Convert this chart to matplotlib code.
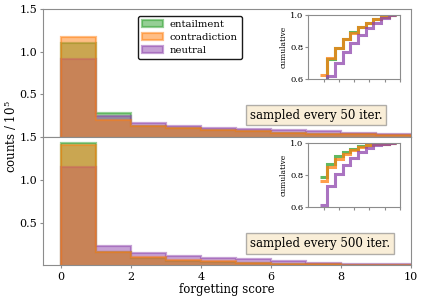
import numpy as np
import matplotlib
matplotlib.use("Agg")
import matplotlib.pyplot as plt

plt.rcParams['font.family'] = ['DejaVu Serif']
plt.rcParams['mathtext.fontset'] = 'dejavuserif'

# ---- data (counts in units of 1e5) ----
bin_edges = np.arange(0, 11)
labels = ["entailment", "contradiction", "neutral"]
colors = ["#2ca02c", "#ff7f0e", "#8e44ad"]
draw_order = [0, 2, 1]  # entailment, neutral, contradiction

top_entailment = [1.10, 0.28, 0.13, 0.10, 0.08, 0.065, 0.05, 0.04, 0.03, 0.022]
top_contradiction = [1.175, 0.20, 0.125, 0.10, 0.08, 0.065, 0.05, 0.04, 0.03, 0.022]
top_neutral = [0.91, 0.25, 0.16, 0.128, 0.11, 0.09, 0.08, 0.065, 0.05, 0.04]

bot_entailment = [1.43, 0.15, 0.085, 0.05, 0.035, 0.025, 0.015, 0.01, 0.006, 0.004]
bot_contradiction = [1.41, 0.16, 0.097, 0.062, 0.045, 0.03, 0.02, 0.012, 0.008, 0.005]
bot_neutral = [1.145, 0.222, 0.138, 0.105, 0.085, 0.07, 0.045, 0.03, 0.015, 0.01]

panels = [
    ("sampled every 50 iter.", [top_entailment, top_contradiction, top_neutral]),
    ("sampled every 500 iter.", [bot_entailment, bot_contradiction, bot_neutral]),
]

x_ticks = [0, 2, 4, 6, 8, 10]
y_ticks = [0.5, 1.0, 1.5]
inset_yticks = [0.6, 0.8, 1.0]

spine_col = "0.55"

fig = plt.figure(figsize=(4.25, 3.0), dpi=100)
L, R = 43.3 / 425, 410.7 / 425
ax_top = fig.add_axes([L, 1 - 137 / 300, R - L, 128 / 300])
ax_bot = fig.add_axes([L, 1 - 265.3 / 300, R - L, 128.3 / 300], sharex=ax_top)
inset_rects = [
    [308.3 / 425, 1 - 79 / 300, 91.7 / 425, 64 / 300],
    [308.3 / 425, 1 - 207.3 / 300, 91.7 / 425, 64 / 300],
]

for i, (ax, (txt, series)) in enumerate(zip([ax_top, ax_bot], panels)):
    handles = {}
    for k in draw_order:
        h = ax.stairs(series[k], bin_edges, fill=True, facecolor=colors[k],
                      edgecolor=colors[k], lw=1.6, alpha=0.5, label=labels[k])
        handles[k] = h
    if i == 0:
        leg = ax.legend([handles[k] for k in range(3)], labels,
                        loc="upper left", bbox_to_anchor=(0.2586, 0.945), borderaxespad=0,
                        fontsize=7.2, frameon=True, fancybox=True, framealpha=1,
                        handlelength=2.1, handletextpad=0.65, labelspacing=0.4)
        leg.get_frame().set_edgecolor("0.1")
    ax.set_xlim(-0.5, 10)
    ax.set_ylim(0, 1.5)
    ax.set_yticks(y_ticks)
    ax.tick_params(labelsize=8, color=spine_col, length=2.5, pad=2)
    for s in ax.spines.values():
        s.set_color(spine_col)
    ax.text(0.5626, 0.17, txt, transform=ax.transAxes, ha="left", va="center",
            fontsize=8.5,
            bbox=dict(boxstyle="square,pad=0.3", facecolor="#f5deb3", alpha=0.5,
                      edgecolor="0.4"))
    # inset cumulative
    axi = fig.add_axes(inset_rects[i])
    for k in [0, 1, 2]:
        v = np.asarray(series[k])
        cum = np.cumsum(v) / v.sum()
        axi.stairs(cum, np.arange(len(v) + 1) - 0.5, baseline=None, color=colors[k],
                   lw=2.2, alpha=0.75)
    axi.set_xlim(-2, 10)
    axi.set_ylim(0.6, 1.0)
    axi.set_xticks(x_ticks)
    axi.set_xticklabels([])
    axi.set_yticks(inset_yticks)
    axi.tick_params(labelsize=6, color=spine_col, length=2, pad=1.5)
    axi.set_ylabel("cumulative", fontsize=5.5, labelpad=2)
    for s in axi.spines.values():
        s.set_color(spine_col)

ax_top.tick_params(axis="x", bottom=False, labelbottom=False)
ax_bot.set_xticks(x_ticks)
ax_bot.set_xlabel("forgetting score", fontsize=8.5, labelpad=1)

fig.text(0.026, 1 - 137 / 300, r"counts / $10^5$", rotation=90, ha="center", va="center",
         fontsize=8.5)

fig.savefig("out.png", dpi=100)
